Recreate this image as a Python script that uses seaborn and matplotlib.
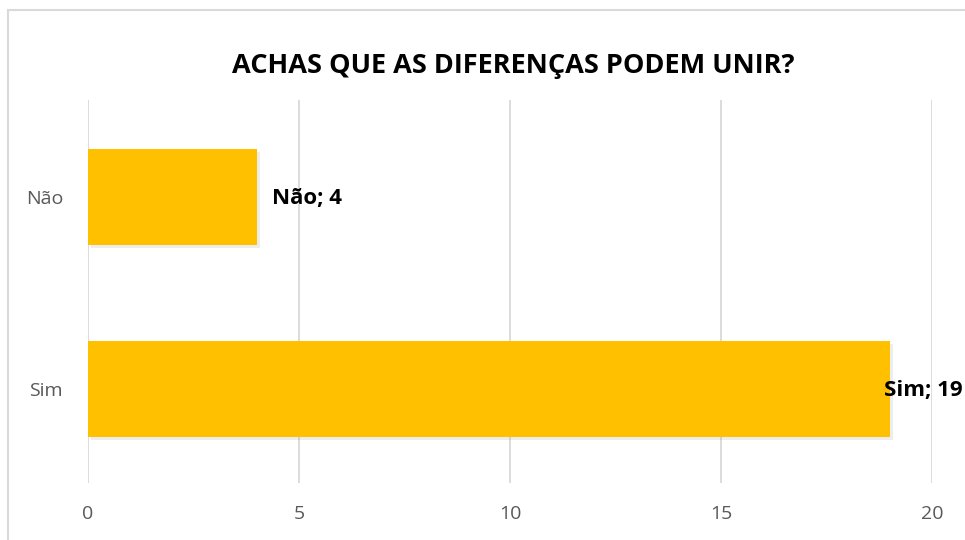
import matplotlib
matplotlib.use('Agg')
import matplotlib.pyplot as plt
import matplotlib.patheffects as pe
import seaborn as sns
import pandas as pd
from matplotlib.patches import Rectangle

# data
categories = ['Não', 'Sim']
values = [4, 19]
title = 'ACHAS QUE AS DIFERENÇAS PODEM UNIR?'

df = pd.DataFrame({'resposta': categories, 'total': values})

sns.set_theme(style='white')
plt.rcParams['font.family'] = ['Open Sans', 'DejaVu Sans']

fig = plt.figure(figsize=(9.65, 5.4), dpi=100)
ax = fig.add_axes([88 / 965, 1 - 483 / 540, (932 - 88) / 965, (483 - 100) / 540])

sns.barplot(data=df, x='total', y='resposta', orient='h', color='#FFC000',
            width=0.5, saturation=1, linewidth=0, edgecolor='none', ax=ax, zorder=3)

# soft shadow on bars
for p in ax.patches:
    p.set_path_effects([pe.SimplePatchShadow(offset=(2, -2), shadow_rgbFace='#888888', alpha=0.15),
                        pe.Normal()])

ax.set_xlim(0, 20)
ax.set_ylim(1.49, -0.505)
ax.set_xticks([0, 5, 10, 15, 20])
ax.grid(axis='x', color='#D9D9D9', linewidth=1.3, zorder=0)
ax.grid(axis='y', visible=False)
for s in ax.spines.values():
    s.set_visible(False)
ax.set_xlabel('')
ax.set_ylabel('')
ax.tick_params(axis='x', colors='#595959', labelsize=14, pad=16, length=0)
ax.tick_params(axis='y', colors='#595959', labelsize=14, pad=18, length=0)

# data labels
for i, (cat, val) in enumerate(zip(categories, values)):
    off = 11 if val < 15 else -4
    ax.annotate(f'{cat}; {val}', xy=(val, i), xytext=(off, -1),
                textcoords='offset points', ha='left', va='center',
                fontsize=16, fontweight='bold', color='black',
                annotation_clip=False, zorder=5)

fig.text(513 / 965, 1 - 66 / 540, title, ha='center', va='center',
         fontsize=19.5, fontweight='bold', color='black')

# chart border (cropped at right/bottom)
fig.patches.append(Rectangle((8 / 965, -0.1), 1.2, 1.1 - 10 / 540,
                             transform=fig.transFigure, fill=False,
                             edgecolor='#D9D9D9', linewidth=1.5))

fig.savefig('out.png', dpi=100)
